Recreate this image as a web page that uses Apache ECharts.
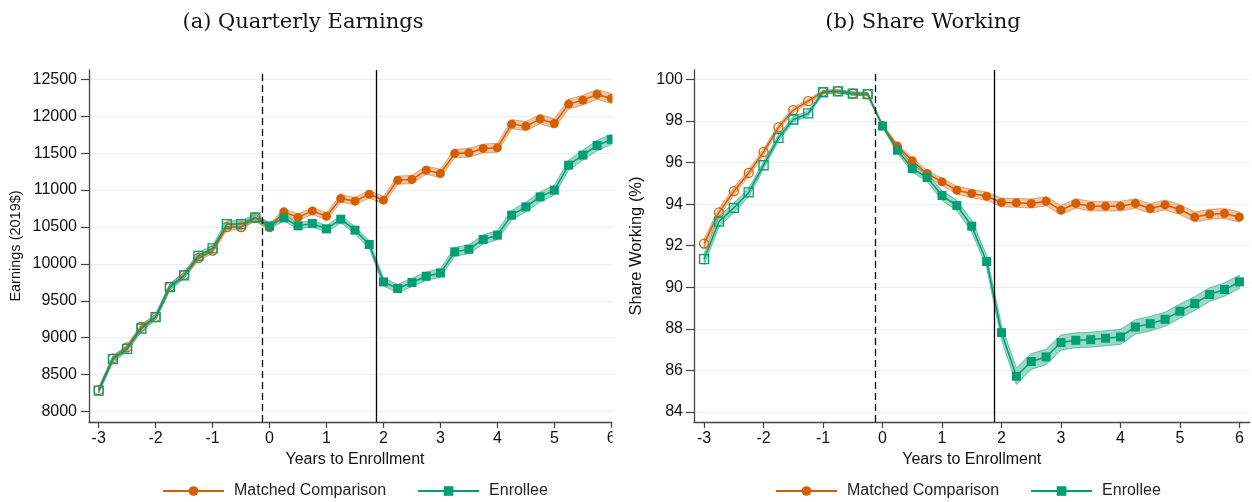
<!DOCTYPE html>
<html>
<head>
<meta charset="utf-8">
<script src="https://cdn.jsdelivr.net/npm/echarts@6/dist/echarts.min.js"></script>
<style>html,body{margin:0;padding:0;background:#fff}#c{width:1252px;height:502px}</style>
</head>
<body>
<div id="c"></div>
<script>
// ---- data ----
const years = [-3,-2.75,-2.5,-2.25,-2,-1.75,-1.5,-1.25,-1,-0.75,-0.5,-0.25,0,0.25,0.5,0.75,1,1.25,1.5,1.75,2,2.25,2.5,2.75,3,3.25,3.5,3.75,4,4.25,4.5,4.75,5,5.25,5.5,5.75,6];
const xTicks = [-3,-2,-1,0,1,2,3,4,5,6];
const earnTicks = [8000,8500,9000,9500,10000,10500,11000,11500,12000,12500];
const shareTicks = [84,86,88,90,92,94,96,98,100];

const earnComparison = [8290,8720,8870,9150,9280,9690,9850,10080,10180,10500,10500,10625,10490,10705,10630,10718,10646,10886,10850,10944,10863,11134,11143,11270,11225,11496,11504,11564,11572,11893,11866,11961,11902,12164,12218,12295,12241];
const earnEnrollee   = [8285,8710,8850,9125,9280,9685,9845,10110,10210,10540,10540,10630,10515,10623,10515,10547,10474,10606,10457,10263,9756,9667,9748,9833,9878,10163,10199,10331,10389,10660,10772,10908,10999,11337,11473,11604,11686];
const earnComparisonCI = [35,35,35,35,35,38,38,38,38,40,40,40,45,45,45,48,48,50,50,52,52,55,55,55,57,58,58,60,60,62,62,63,64,65,66,67,68];
const earnEnrolleeCI   = [40,40,40,40,40,42,42,42,44,45,45,45,40,42,44,45,46,48,50,52,54,55,56,57,58,60,60,62,62,64,65,66,67,68,69,70,70];

const shareComparison = [92.10,93.60,94.62,95.50,96.51,97.69,98.52,98.95,99.40,99.43,99.32,99.29,97.78,96.79,96.08,95.47,95.07,94.67,94.51,94.38,94.08,94.06,94.03,94.14,93.71,94.03,93.90,93.90,93.90,94.03,93.79,93.96,93.74,93.38,93.51,93.55,93.38];
const shareEnrollee   = [91.35,93.16,93.82,94.56,95.87,97.19,98.07,98.36,99.38,99.42,99.31,99.29,97.75,96.59,95.71,95.28,94.41,93.93,92.94,91.24,87.82,85.72,86.43,86.65,87.34,87.45,87.48,87.55,87.61,88.09,88.25,88.46,88.85,89.22,89.65,89.89,90.26];
const shareComparisonCI = [0.22,0.20,0.18,0.16,0.15,0.13,0.12,0.10,0.08,0.08,0.08,0.08,0.05,0.10,0.13,0.15,0.17,0.19,0.20,0.20,0.21,0.21,0.22,0.22,0.22,0.23,0.23,0.23,0.23,0.23,0.23,0.24,0.24,0.24,0.24,0.24,0.25];
const shareEnrolleeCI   = [0.28,0.25,0.23,0.20,0.18,0.15,0.13,0.12,0.08,0.08,0.08,0.08,0.06,0.13,0.18,0.20,0.23,0.25,0.28,0.30,0.35,0.40,0.38,0.37,0.36,0.36,0.36,0.36,0.36,0.35,0.35,0.34,0.34,0.33,0.33,0.32,0.32];

const enrollLine = -0.125;   // dashed
const programLine = 1.875;   // solid

// ---- styles ----
const ORANGE = '#D55E00', GREEN = '#009E73';
const FONT = 'Liberation Sans';

function mainPoints(vals, color) {
  return years.map((x, i) => x < 0
    ? {value: [x, vals[i]], itemStyle: {color: 'rgba(255,255,255,0)', borderColor: color, borderWidth: 1.3}}
    : {value: [x, vals[i]]});
}
// confidence band: one polygon through lower then upper bound, placed via the axes
function bandSeries(vals, ci, fill, stroke, idx) {
  const data = years.map((x, i) => [x, vals[i] - ci[i], vals[i] + ci[i]]);
  return {
    type: 'custom', xAxisIndex: idx, yAxisIndex: idx, silent: true, z: 1,
    data: data,
    encode: {x: 0, y: [1, 2]},
    renderItem: function (params, api) {
      if (params.dataIndex !== 0) return null;
      const lower = data.map(d => api.coord([d[0], d[1]]));
      const upper = data.map(d => api.coord([d[0], d[2]])).reverse();
      return {
        type: 'polygon',
        shape: {points: lower.concat(upper)},
        style: {fill: fill, stroke: stroke, lineWidth: 0.9}
      };
    }
  };
}
function lineSeries(name, vals, color, idx, symbol, withMarks) {
  const s = {
    name: name, type: 'line', xAxisIndex: idx, yAxisIndex: idx,
    symbol: symbol, symbolSize: 9, showAllSymbol: true,
    itemStyle: {color: color}, lineStyle: {color: color, width: 1.5},
    data: mainPoints(vals, color), z: 3
  };
  if (withMarks) {
    s.markLine = {
      silent: true, symbol: 'none', label: {show: false},
      lineStyle: {color: '#000', width: 1.3},
      data: [
        {xAxis: enrollLine, lineStyle: {type: [7, 4], color: '#000', width: 1.3}},
        {xAxis: programLine, lineStyle: {type: 'solid', color: '#000', width: 1.3}}
      ]
    };
  }
  return s;
}

function xAxisCfg(idx) {
  return {
    type: 'value', gridIndex: idx, min: -3.17, max: 6.17,
    name: 'Years to Enrollment', nameLocation: 'middle', nameGap: 27,
    nameTextStyle: {fontFamily: FONT, fontSize: 16, color: '#111'},
    axisLine: {onZero: false, lineStyle: {color: '#444', width: 1.3}},
    axisTick: {show: true, length: 6, customValues: xTicks, lineStyle: {color: '#444', width: 1.2}},
    axisLabel: {customValues: xTicks, margin: 9, fontFamily: FONT, fontSize: 16, color: '#111'},
    splitLine: {show: false}
  };
}
function yAxisCfg(idx, min, max, ticks, name, gap, nameSize, margin) {
  return {
    type: 'value', gridIndex: idx, min: min, max: max,
    name: name, nameLocation: 'middle', nameGap: gap,
    nameTextStyle: {fontFamily: FONT, fontSize: nameSize, color: '#111'},
    axisLine: {show: true, onZero: false, lineStyle: {color: '#444', width: 1.3}},
    axisTick: {show: true, length: 8, customValues: ticks, lineStyle: {color: '#444', width: 1.2}},
    axisLabel: {customValues: ticks, margin: margin, fontFamily: FONT, fontSize: 16, color: '#111',
                formatter: v => String(v)},
    splitLine: {show: true, lineStyle: {color: '#e6eff1', width: 1.2}}
  };
}

const legendNames = ['Matched Comparison', 'Enrollee'];
function legendCfg(left) {
  return {
    left: left, top: 483, padding: 0, itemWidth: 61, itemHeight: 12, itemGap: 31,
    data: legendNames, selectedMode: false,
    textStyle: {fontFamily: FONT, fontSize: 16, color: '#222', padding: [0, 0, 0, 5]}
  };
}

const OR_FILL = 'rgba(232,150,90,0.55)', OR_EDGE = 'rgba(213,94,0,0.55)';
const GR_FILL = 'rgba(60,180,140,0.5)', GR_EDGE = 'rgba(0,158,115,0.6)';

const chart = echarts.init(document.getElementById('c'), null, {renderer: 'canvas'});
chart.setOption({
  animation: false,
  backgroundColor: '#fff',
  grid: [
    {left: 89, top: 70, width: 532, height: 352},
    {left: 694, top: 70, width: 555.5, height: 352}
  ],
  xAxis: [xAxisCfg(0), xAxisCfg(1)],
  yAxis: [
    yAxisCfg(0, 7859, 12626, earnTicks, 'Earnings (2019$)', 66, 14.5, 12),
    yAxisCfg(1, 83.52, 100.45, shareTicks, 'Share Working (%)', 49, 16.5, 11)
  ],
  legend: [legendCfg(162), legendCfg(775)],
  graphic: [
    {type: 'rect', z: 100, shape: {x: 612.5, y: 55, width: 15, height: 400}, style: {fill: '#fff'}},
    {type: 'text', z: 101, x: 303, y: 23, style: {text: '(a) Quarterly Earnings', font: '21px "DejaVu Serif"', fill: '#111', textAlign: 'center', textVerticalAlign: 'middle'}},
    {type: 'text', z: 101, x: 923, y: 23, style: {text: '(b) Share Working', font: '21px "DejaVu Serif"', fill: '#111', textAlign: 'center', textVerticalAlign: 'middle'}}
  ],
  series: [
    bandSeries(earnComparison, earnComparisonCI, OR_FILL, OR_EDGE, 0),
    lineSeries('Matched Comparison', earnComparison, ORANGE, 0, 'circle', true),
    bandSeries(earnEnrollee, earnEnrolleeCI, GR_FILL, GR_EDGE, 0),
    lineSeries('Enrollee', earnEnrollee, GREEN, 0, 'rect', false),
    bandSeries(shareComparison, shareComparisonCI, OR_FILL, OR_EDGE, 1),
    lineSeries('Matched Comparison', shareComparison, ORANGE, 1, 'circle', true),
    bandSeries(shareEnrollee, shareEnrolleeCI, GR_FILL, GR_EDGE, 1),
    lineSeries('Enrollee', shareEnrollee, GREEN, 1, 'rect', false)
  ]
});
</script>
</body>
</html>
